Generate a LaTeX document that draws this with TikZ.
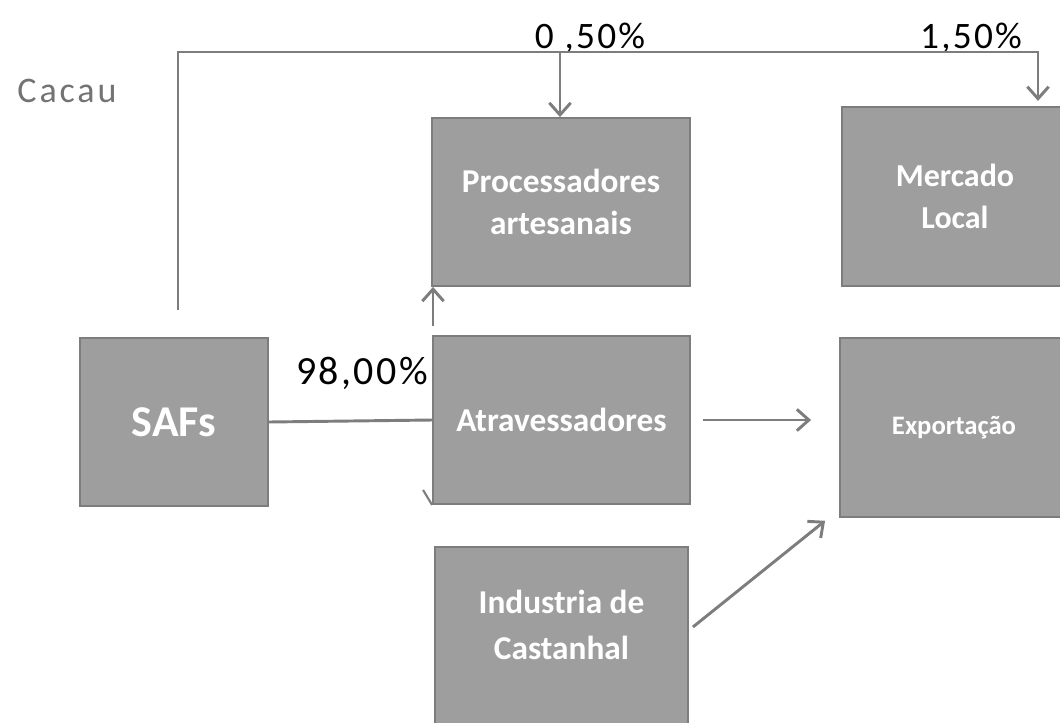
\documentclass[tikz,border=0pt]{standalone}
\usepackage{fontspec}
\setmainfont{Carlito}
\newfontfamily\lblfont[LetterSpace=6]{Carlito}
\newfontfamily\cacaufont[LetterSpace=8]{Carlito}
\usetikzlibrary{arrows.meta,calc}
\definecolor{boxfill}{RGB}{158,158,158}
\definecolor{boxline}{RGB}{125,125,125}
\definecolor{conncol}{RGB}{125,125,125}
\definecolor{cacaucol}{RGB}{115,115,115}
\tikzset{
  box/.style={draw=boxline, line width=1.4pt, fill=boxfill, text=white,
    font=\bfseries, align=center, inner sep=0pt},
  conn/.style={draw=conncol, line width=2.2pt},
  arr/.style={conn, -{Straight Barb[length=9pt,width=16pt]}},
  pct/.style={font=\lblfont\fontsize{28}{32}\selectfont, text=black, inner sep=0pt},
}
\begin{document}
\begin{tikzpicture}[x=0.75pt,y=-0.75pt]
\clip (0,0) rectangle (1060,722);
\fill[white] (0,0) rectangle (1060,722);

% boxes
\node[box, minimum width=141pt, minimum height=126pt, font=\bfseries\fontsize{33}{38}\selectfont] (saf) at (174,422) {SAFs};
\node[box, minimum width=193.5pt, minimum height=126pt, font=\bfseries\fontsize{25}{31}\selectfont] (proc) at (561,202) {Processadores\\artesanais};
\node[box, minimum width=169.5pt, minimum height=134pt, font=\bfseries\fontsize{24}{31}\selectfont] (mer) at (955,196.5) {Mercado\\Local};
\node[box, minimum width=192.75pt, minimum height=126pt, font=\bfseries\fontsize{25}{31}\selectfont] (atr) at (561.5,420) {Atravessadores};
\node[box, minimum width=171pt, minimum height=134pt, font=\bfseries\fontsize{20}{24}\selectfont] (exp) at (954,427.5) {Exportação};
\node[box, minimum width=189.75pt, minimum height=141pt] (ind) at (561.5,641) {};
\node[font=\bfseries\fontsize{25}{34}\selectfont, text=white, align=center, inner sep=0pt] (indt) at (561.5,625) {Industria de\\Castanhal};

% labels
\node[font=\cacaufont\fontsize{27}{32}\selectfont, text=cacaucol, inner sep=0pt] (cacau) at (67,91) {Cacau};
\node[pct] (p05) at (590,38) {0 ,50\%};
\node[pct] (p15) at (971,38) {1,50\%};
\node[pct, font=\lblfont\fontsize{30}{34}\selectfont] (p98) at (362,373) {98,00\%};

% top connector
\coordinate (s0) at (178,310);
\coordinate (tr) at (1038,52);
\coordinate (tm) at (560,52);
\draw[arr, shorten >=4pt] (s0) |- (tr) -- (tr |- mer.north);
\draw[arr] (tm) -- (tm |- proc.north);

% SAFs to Atravessadores
\draw[conn] (saf.east) -- (atr.west);

% up arrow to Processadores
\coordinate (u0) at (433,326);
\draw[arr] (u0) -- (u0 |- proc.south);

% small hook at bottom left of Atravessadores
\draw[conn, line width=1.6pt] ($(atr.south west)+(-9,-15)$) -- (atr.south west);

% Atravessadores to Exportacao
\draw[arr, shorten <=9pt, shorten >=21pt] (atr.east) -- (atr.east -| exp.west);

% Industria to Exportacao
\draw[arr] ($(ind.east)+(4,-14)$) -- ($(exp.south west)+(-14,3)$);
\end{tikzpicture}
\end{document}
